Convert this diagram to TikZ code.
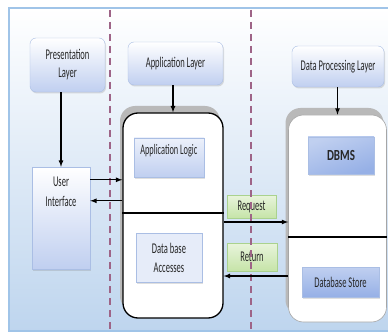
\documentclass[tikz,border=0pt]{standalone}
\usepackage{fontspec}
\usepackage{graphicx}
\setmainfont{Carlito}
\usetikzlibrary{shadows}
\definecolor{bgblue}{RGB}{190,213,238}
\definecolor{bgline}{RGB}{160,196,232}
\definecolor{dashpink}{RGB}{158,100,135}
\definecolor{boxblue}{RGB}{192,207,240}
\definecolor{boxline}{RGB}{170,190,228}
\definecolor{dbmsblue}{RGB}{150,176,230}
\definecolor{greenlo}{RGB}{198,228,168}
\definecolor{greenline}{RGB}{170,210,142}
\newcommand{\tall}[1]{\scalebox{1}[1.75]{#1}}
\begin{document}
\begin{tikzpicture}[x=1pt,y=-1pt]
        \tikzstyle{layer}=[draw=boxline, rounded corners=6pt, top color=white, bottom color=boxblue, font=\fontsize{8.5}{18}\selectfont, text=black!85, align=center, inner sep=2pt, drop shadow={opacity=0.25, shadow xshift=1pt, shadow yshift=-1.5pt}]
        \tikzstyle{plainbox}=[draw=boxline, top color=white!70!boxblue, bottom color=boxblue, font=\fontsize{8.5}{19}\selectfont, text=black!85, align=center, inner sep=2pt, drop shadow={opacity=0.25, shadow xshift=1pt, shadow yshift=-1.5pt}]
        \tikzstyle{container}=[rounded corners=15pt, fill=white, drop shadow={fill=gray!55, opacity=1, shadow xshift=-3pt, shadow yshift=7pt}]
        \tikzstyle{greenbox}=[draw=greenline, top color=white!60!greenlo, bottom color=greenlo, font=\fontsize{8.5}{10}\selectfont, text=black!85, inner sep=2pt]
        \tikzstyle{arr}=[->, >=latex, line width=1.2pt]
        \tikzstyle{divider}=[dashpink, line width=1.2pt, dash pattern=on 7pt off 5pt]
        \useasboundingbox (0,0) rectangle (388,334);
        \path[draw=bgline, line width=1.5pt, top color=white, bottom color=bgblue] (9,8) rectangle (390,331);
        % layers
        \node[layer, minimum width=75pt, minimum height=54pt] (prl) at (67.5,65) {\tall{Presentation}\\\tall{Layer}};
        \node[layer, minimum width=95pt, minimum height=43pt] (apl) at (175.5,63.5) {\tall{Application Layer}};
        \node[layer, minimum width=92pt, minimum height=41pt] (dpl) at (338,66.5) {\tall{Data Processing Layer}};
        \node[plainbox, top color=white, minimum width=58pt, minimum height=102pt, label={[anchor=north, yshift=-7pt, font=\fontsize{8.5}{20}\selectfont, text=black!85, align=center]north:\tall{User}\\\tall{Interface}}] (ui) at (61,218) {};
        % containers
        \node[container, draw=black, line width=1.3pt, minimum width=100pt, minimum height=205pt] (app) at (173,215.5) {};
        \node[container, draw=gray!70, line width=0.6pt, minimum width=98pt, minimum height=207pt] (data) at (337.5,218.5) {};
        \coordinate (appdiv) at (0,213);
        \coordinate (datadiv) at (0,237);
        \draw[line width=1.2pt] (appdiv -| app.west) -- (appdiv -| app.east);
        \draw[line width=1.2pt] (datadiv -| data.west) -- (datadiv -| data.east);
        \node[plainbox, minimum width=70pt, minimum height=39pt, label={[anchor=north west, xshift=3pt, yshift=-3pt, font=\fontsize{8.3}{10}\selectfont, text=black!85]north west:\tall{Application Logic}}] (alg) at (169,157.5) {};
        \node[plainbox, top color=white!60!boxblue, bottom color=white!60!boxblue, minimum width=66pt, minimum height=49pt] (dba) at (169,257.5) {\tall{Data base}\\\tall{Accesses}};
        \node[plainbox, top color=white!40!dbmsblue, bottom color=dbmsblue, shading angle=20, minimum width=66pt, minimum height=37pt, font=\fontsize{11}{13}\selectfont\bfseries] (dbms) at (341,155.5) {\scalebox{1}[1.4]{DBMS}};
        \node[plainbox, top color=white!40!dbmsblue, bottom color=dbmsblue, minimum width=77pt, minimum height=30pt] (dbs) at (340.5,282) {\tall{Database Store}};
        \node[greenbox, minimum width=49pt, minimum height=23pt] (req) at (251.5,206.5) {\tall{Request}};
        \node[greenbox, minimum width=50pt, minimum height=28pt] (ret) at (252,257) {\tall{Return}};
        % dividers
        \draw[divider] (110,10) -- (110,334);
        \draw[divider] (251,10) -- (251,334);
        % arrows
        \draw[arr] (ui.north |- prl.south) -- (ui.north);
        \draw[arr] (app.north |- apl.south) -- (app.north);
        \draw[arr] (data.north |- dpl.south) -- (data.north);
        \coordinate (uiout) at ([yshift=-13pt]ui.north east);
        \coordinate (uiin) at ([yshift=-34pt]ui.north east);
        \coordinate (reqy) at ([yshift=-6.5pt]app.east);
        \coordinate (rety) at ([yshift=-60.5pt]app.east);
        \draw[arr] (uiout) -- (uiout -| app.west);
        \draw[arr] (uiin -| app.west) -- (uiin);
        \draw[arr] (reqy) -- (reqy -| data.west);
        \draw[arr] (rety -| data.west) -- (rety);
    \end{tikzpicture}
\end{document}
